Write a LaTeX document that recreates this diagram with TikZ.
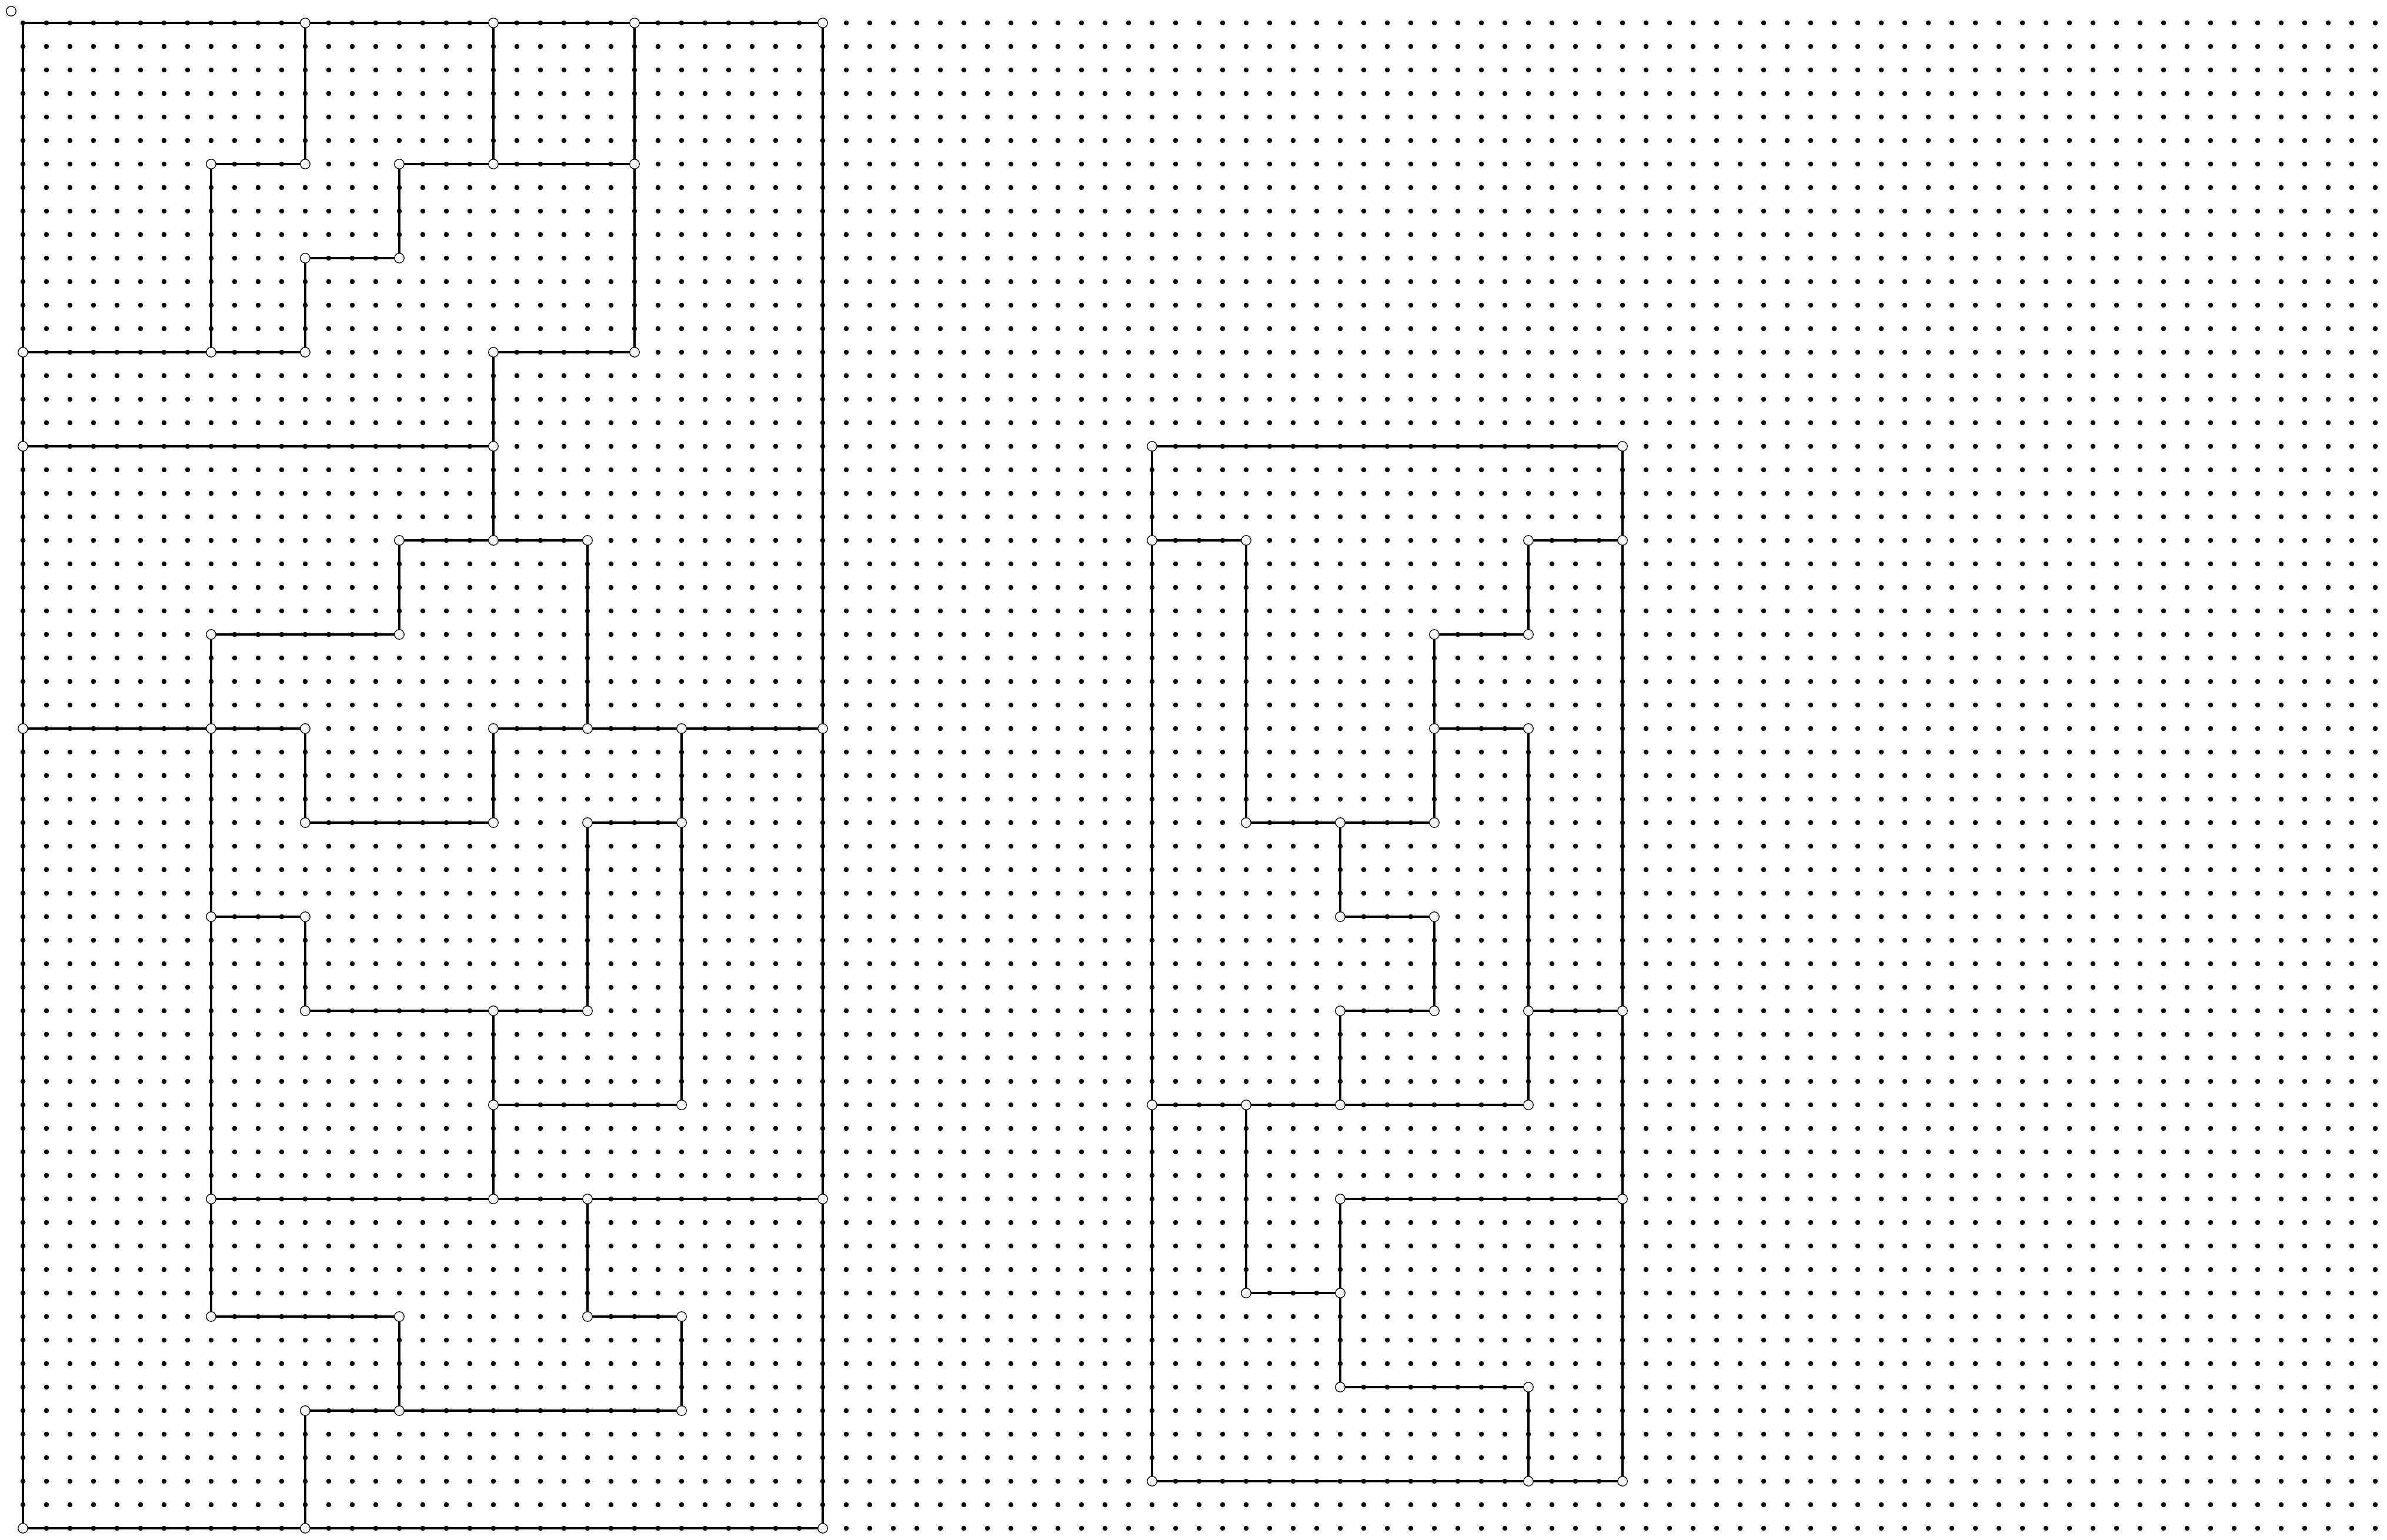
\documentclass[tikz,border=0pt]{standalone}

\begin{document}
\begin{tikzpicture}[x=4mm,y=-4mm,
   wall/.style={line width=0.4mm},
   griddot/.style={fill=black},
   vtx/.style={circle,draw,fill=white,line width=0.13mm,minimum size=1.65mm,inner sep=0pt}]
\useasboundingbox (0.025,0.025) rectangle (101.5,65.5);
\coordinate (v1-1) at (1,1);
\foreach \x/\y in {13/1,21/1,27/1,35/1,9/7,13/7,17/7,21/7,27/7,13/11,17/11,
   1/15,9/15,13/15,21/15,27/15,1/19,21/19,17/23,21/23,25/23,9/27,17/27,
   1/31,9/31,13/31,21/31,25/31,29/31,35/31,13/35,21/35,25/35,29/35,9/39,13/39,
   13/43,21/43,25/43,21/47,29/47,9/51,21/51,25/51,35/51,9/56,17/56,25/56,29/56,
   13/60,17/60,29/60,1/65,13/65,35/65,
   49/19,69/19,49/23,53/23,65/23,69/23,61/27,65/27,61/31,65/31,53/35,57/35,61/35,
   57/39,61/39,57/43,61/43,65/43,69/43,49/47,53/47,57/47,65/47,57/51,69/51,
   53/55,57/55,57/59,65/59,49/63,65/63,69/63}
   \coordinate (v\x-\y) at (\x,\y);
\draw[wall] (v1-1) rectangle (v35-65);
\draw[wall] (v13-1) -- (v13-7) -- (v9-7) -- (v9-15);
\draw[wall] (v1-15) -- (v13-15) -- (v13-11) -- (v17-11) -- (v17-7) -- (v27-7);
\draw[wall] (v21-1) -- (v21-7);
\draw[wall] (v27-1) -- (v27-15) -- (v21-15) -- (v21-23);
\draw[wall] (v1-19) -- (v21-19);
\draw[wall] (v17-27) -- (v17-23) -- (v25-23) -- (v25-31);
\draw[wall] (v17-27) -- (v9-27) -- (v9-51);
\draw[wall] (v1-31) -- (v13-31) -- (v13-35) -- (v21-35) -- (v21-31) -- (v35-31);
\draw[wall] (v29-31) -- (v29-47) -- (v21-47);
\draw[wall] (v29-35) -- (v25-35) -- (v25-43) -- (v13-43) -- (v13-39) -- (v9-39);
\draw[wall] (v21-43) -- (v21-51);
\draw[wall] (v9-51) -- (v35-51);
\draw[wall] (v9-51) -- (v9-56) -- (v17-56) -- (v17-60);
\draw[wall] (v25-51) -- (v25-56) -- (v29-56) -- (v29-60) -- (v13-60) -- (v13-65);
\draw[wall] (v49-19) rectangle (v69-63);
\draw[wall] (v49-23) -- (v53-23) -- (v53-35) -- (v61-35) -- (v61-27) -- (v65-27) -- (v65-23) -- (v69-23);
\draw[wall] (v61-31) -- (v65-31) -- (v65-47) -- (v49-47);
\draw[wall] (v65-43) -- (v69-43);
\draw[wall] (v57-35) -- (v57-39) -- (v61-39) -- (v61-43) -- (v57-43) -- (v57-47);
\draw[wall] (v53-47) -- (v53-55) -- (v57-55);
\draw[wall] (v69-51) -- (v57-51) -- (v57-59) -- (v65-59) -- (v65-63);
\foreach \x in {1,...,101}
  \foreach \y in {1,...,65}
    \fill[griddot] (\x,\y) circle (0.43mm);
\foreach \x/\y in {13/1,21/1,27/1,35/1,9/7,13/7,17/7,21/7,27/7,13/11,17/11,
   1/15,9/15,13/15,21/15,27/15,1/19,21/19,17/23,21/23,25/23,9/27,17/27,
   1/31,9/31,13/31,21/31,25/31,29/31,35/31,13/35,21/35,25/35,29/35,9/39,13/39,
   13/43,21/43,25/43,21/47,29/47,9/51,21/51,25/51,35/51,9/56,17/56,25/56,29/56,
   13/60,17/60,29/60,1/65,13/65,35/65,
   49/19,69/19,49/23,53/23,65/23,69/23,61/27,65/27,61/31,65/31,53/35,57/35,61/35,
   57/39,61/39,57/43,61/43,65/43,69/43,49/47,53/47,57/47,65/47,57/51,69/51,
   53/55,57/55,57/59,65/59,49/63,65/63,69/63}
   \node[vtx] (o\x-\y) at (v\x-\y) {};
\node[vtx] (o0) at (0.5,0.5) {};
\end{tikzpicture}
\end{document}
